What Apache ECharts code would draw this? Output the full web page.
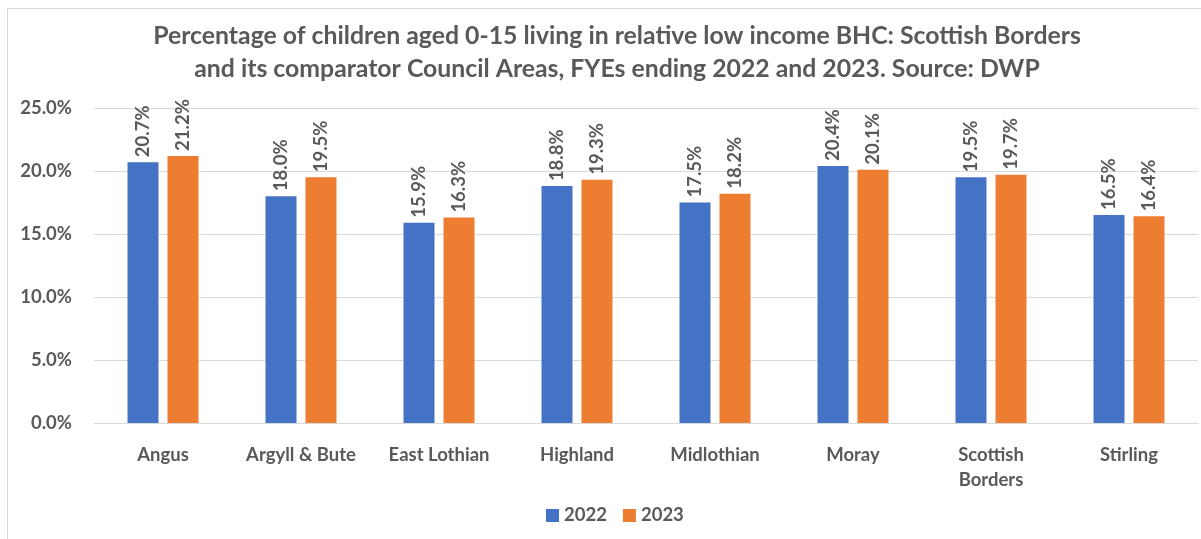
<!DOCTYPE html>
<html>
<head>
<meta charset="utf-8">
<script src="https://cdn.jsdelivr.net/npm/echarts@6/dist/echarts.min.js"></script>
<style>
  html, body { margin: 0; padding: 0; background: #ffffff; }
  #chart { width: 1201px; height: 539px; }
</style>
</head>
<body>
<div id="chart"></div>
<script>
// Council areas compared with Scottish Borders
const categories = ['Angus', 'Argyll & Bute', 'East Lothian', 'Highland', 'Midlothian', 'Moray', 'Scottish\nBorders', 'Stirling'];
// Percentage of children aged 0-15 in relative low income (BHC)
const values2022 = [20.7, 18.0, 15.9, 18.8, 17.5, 20.4, 19.5, 16.5];
const values2023 = [21.2, 19.5, 16.3, 19.3, 18.2, 20.1, 19.7, 16.4];
const seriesNames = ['2022', '2023'];
const yTicks = [0, 5, 10, 15, 20, 25];

const FONT = 'Lato, "Open Sans", sans-serif';
const TEXT = '#595959';

const chart = echarts.init(document.getElementById('chart'), null, { renderer: 'canvas' });

const labelStyle = {
  show: true,
  position: 'top',
  rotate: 90,
  align: 'left',
  verticalAlign: 'middle',
  distance: 5,
  formatter: p => p.value.toFixed(1) + '%',
  color: TEXT,
  fontFamily: FONT,
  fontWeight: 'bold',
  fontSize: 18.5
};

chart.setOption({
  animation: false,
  backgroundColor: '#ffffff',
  graphic: [{
    type: 'rect',
    shape: { x: 7.5, y: 8.5, width: 1230, height: 560 },
    style: { fill: 'none', stroke: '#D9D9D9', lineWidth: 1 },
    silent: true
  }],
  title: {
    text: 'Percentage of children aged 0-15 living in relative low income BHC: Scottish Borders\nand its comparator Council Areas, FYEs ending 2022 and 2023. Source: DWP',
    left: 612,
    top: 15,
    textAlign: 'center',
    textStyle: {
      color: TEXT,
      fontFamily: FONT,
      fontWeight: 'bold',
      fontSize: 24.8,
      lineHeight: 33
    }
  },
  legend: {
    data: seriesNames,
    bottom: 9,
    left: 541,
    itemWidth: 13,
    itemHeight: 13,
    itemGap: 16,
    icon: 'rect',
    textStyle: {
      color: TEXT,
      fontFamily: FONT,
      fontWeight: 'bold',
      fontSize: 18.5
    }
  },
  grid: {
    left: 94,
    right: 3,
    top: 108,
    bottom: 116,
    containLabel: false
  },
  xAxis: {
    type: 'category',
    data: categories,
    axisLine: { show: true, lineStyle: { color: '#D9D9D9', width: 1 } },
    axisTick: { show: false },
    axisLabel: {
      color: TEXT,
      fontFamily: FONT,
      fontWeight: 'bold',
      fontSize: 18.5,
      margin: 20,
      lineHeight: 25,
      interval: 0
    }
  },
  yAxis: {
    type: 'value',
    min: 0,
    max: 25,
    interval: 5,
    axisLine: { show: false },
    axisTick: { show: false },
    splitLine: { lineStyle: { color: '#D9D9D9', width: 1 } },
    axisLabel: {
      color: TEXT,
      fontFamily: FONT,
      fontWeight: 'bold',
      fontSize: 18.5,
      margin: 22,
      formatter: v => yTicks.includes(v) ? v.toFixed(1) + '%' : ''
    }
  },
  series: [
    {
      name: seriesNames[0],
      type: 'bar',
      data: values2022,
      barWidth: 31,
      barGap: '29%',
      itemStyle: { color: '#4472C4' },
      label: labelStyle
    },
    {
      name: seriesNames[1],
      type: 'bar',
      data: values2023,
      barWidth: 31,
      barGap: '29%',
      itemStyle: { color: '#ED7D31' },
      label: labelStyle
    }
  ]
});
</script>
</body>
</html>
